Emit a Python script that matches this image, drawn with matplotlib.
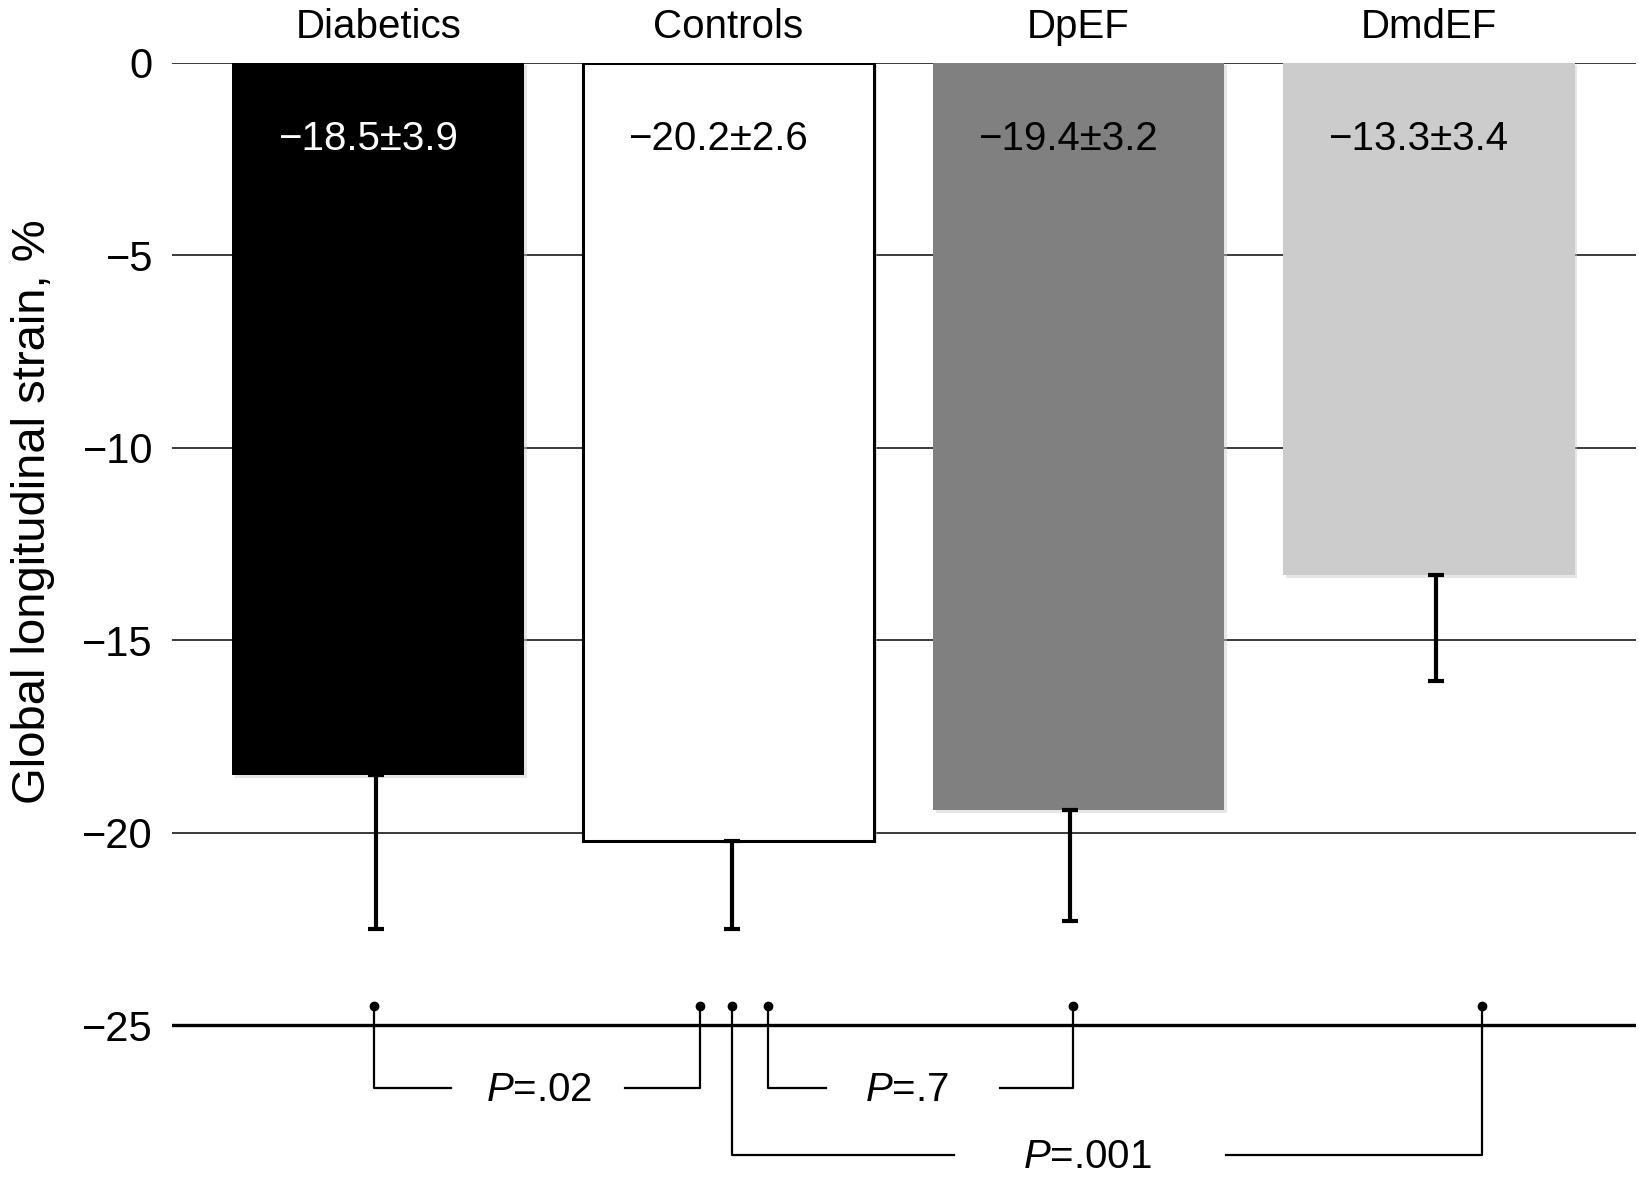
import matplotlib
matplotlib.use("Agg")
import matplotlib.pyplot as plt
import matplotlib.patheffects as pe

plt.rcParams['font.family'] = ['Liberation Sans', 'DejaVu Sans']
plt.rcParams['mathtext.fontset'] = 'custom'
plt.rcParams['mathtext.rm'] = 'Liberation Sans'
plt.rcParams['mathtext.it'] = 'Liberation Sans:italic'

# data
groups = ["Diabetics", "Controls", "DpEF", "DmdEF"]
means = [-18.5, -20.2, -19.4, -13.3]
# error lengths as drawn in the picture
errs = [4.0, 2.3, 2.9, 2.75]
value_labels = ["\u221218.5\u00b13.9", "\u221220.2\u00b12.6", "\u221219.4\u00b13.2", "\u221213.3\u00b13.4"]
yticks = [0, -5, -10, -15, -20, -25]
p_labels = ["$\\mathit{P}$=.02", "$\\mathit{P}$=.7", "$\\mathit{P}$=.001"]

colors = ["black", "white", "#808080", "#cccccc"]
edges = ["black", "black", "#808080", "#cccccc"]
text_colors = ["white", "black", "black", "black"]

fig = plt.figure(figsize=(16.39, 11.81), dpi=100)
ax = fig.add_axes([0.1052, 0.0046, 0.8928, 0.9423])

x = list(range(len(groups)))
bars = ax.bar(x, means, width=0.833, color=colors, edgecolor=edges,
              linewidth=[0, 2.2, 0, 0], zorder=2)
for b in bars:
    b.set_path_effects([pe.SimplePatchShadow(offset=(2, -2), shadow_rgbFace='#c8c8c8', alpha=0.45),
                        pe.Normal()])

# error bars sit a little off centre in the original
err_shift = [-0.006, 0.009, -0.024, 0.021]
ax.errorbar([xi + s for xi, s in zip(x, err_shift)], means, yerr=[errs, [0] * 4],
            fmt='none', ecolor='black', elinewidth=3, capsize=5.5, capthick=3, zorder=3)

for i, lab in enumerate(value_labels):
    ax.text(x[i] - 0.03, -1.97, lab, ha='center', va='center', fontsize=29,
            color=text_colors[i], zorder=4)

# grid lines
ax.set_ylim(-28.9, 0)
ax.set_xlim(-0.588, 3.591)
ax.set_yticks(yticks)
ax.set_yticklabels(["0" if t == 0 else "\u2212%d" % -t for t in yticks], fontsize=30)
ax.yaxis.grid(True, color='#3a3a3a', linewidth=1.4)
ax.axhline(-25, color='black', linewidth=2.4, zorder=1)
ax.set_axisbelow(True)
ax.tick_params(axis='y', length=0, pad=14)

ax.xaxis.tick_top()
ax.set_xticks(x)
ax.set_xticklabels(groups, fontsize=29)
ax.tick_params(axis='x', length=0, pad=12)
ax.get_xticklabels()[0].set_x(0.03)

for s in ax.spines.values():
    s.set_visible(False)

# significance brackets: (left x, right x, level y, text x, gap left, gap right)
brackets = [
    (-0.012, 0.919, -26.63, 0.46, 0.209, 0.704),
    (1.113, 1.985, -26.63, 1.51, 1.278, 1.776),
    (1.009, 3.152, -28.37, 2.024, 1.645, 2.421),
]
dot_y = -24.5
for (xl, xr, yl, xt, gl, gr), lab in zip(brackets, p_labels):
    ax.plot([xl, xl, gl], [dot_y, yl, yl], color='black', lw=1.6, zorder=3, clip_on=False)
    ax.plot([gr, xr, xr], [yl, yl, dot_y], color='black', lw=1.6, zorder=3, clip_on=False)
    ax.plot([xl, xr], [dot_y, dot_y], 'o', color='black', ms=6, zorder=4, clip_on=False)
    ax.text(xt, yl - 0.05, lab, ha='center', va='center', fontsize=29, clip_on=False)

fig.text(33 / 1639, 1 - 512 / 1181, "Global longitudinal strain, %", rotation=90,
         ha='center', va='center', fontsize=34)

fig.savefig("out.png", dpi=100)
